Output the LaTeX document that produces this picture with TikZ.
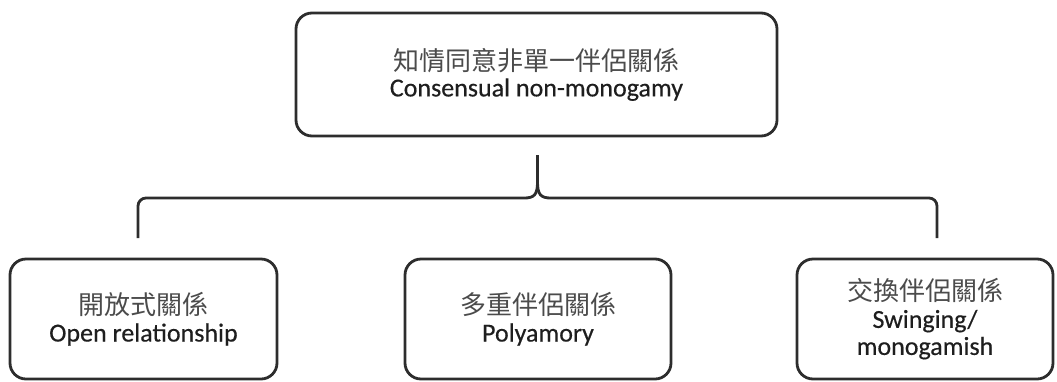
\documentclass[tikz,border=0pt]{standalone}
\usepackage{fontspec}
\setmainfont{Carlito}[FakeBold=0.4]
\newfontfamily\cjk{Noto Sans CJK TC}
\definecolor{linec}{RGB}{45,45,45}
\definecolor{textc}{RGB}{30,30,30}
\definecolor{cjkc}{RGB}{75,75,75}
\newcommand{\zh}[1]{{\cjk\color{cjkc}#1}}
\begin{document}
\begin{tikzpicture}[x=1pt,y=-1pt,
  box/.style={draw=linec, line width=2.8pt, rounded corners=16pt, align=center,
    text=textc, font=\fontsize{26}{29}\selectfont, inner sep=0pt},
  brace/.style={draw=linec, line width=2.8pt, line join=round}]
\useasboundingbox (0,0) rectangle (1057,381);
\node[box, minimum width=481pt, minimum height=123pt] (top) at (536.5,74.5)
  {\zh{知情同意非單一伴侶關係}\\[-3pt]Consensual non-monogamy};
\node[box, minimum width=267pt, minimum height=120pt] (open) at (143.5,319)
  {\zh{開放式關係}\\[-2pt]Open relationship};
\node[box, minimum width=266pt, minimum height=120pt] (poly) at (538,319)
  {\zh{多重伴侶關係}\\[-2pt]Polyamory};
\node[box, minimum width=256pt, minimum height=120pt, font=\fontsize{26}{27}\selectfont] (swing) at (925,319)
  {\zh{交換伴侶關係}\\Swinging/\\monogamish};
\coordinate (peak) at (537.5,155);
\coordinate (lleg) at (138,238);
\coordinate (rleg) at (937,238);
\draw[brace, rounded corners=8pt] (lleg) -- (138,198) -- (505,198) [sharp corners]
  -- (524,198) .. controls (534,198) and (537.5,195) .. (537.5,182) -- (peak);
\draw[brace, rounded corners=8pt] (rleg) -- (937,198) -- (570,198) [sharp corners]
  -- (551,198) .. controls (541,198) and (537.5,195) .. (537.5,182) -- (peak);
\end{tikzpicture}
\end{document}
